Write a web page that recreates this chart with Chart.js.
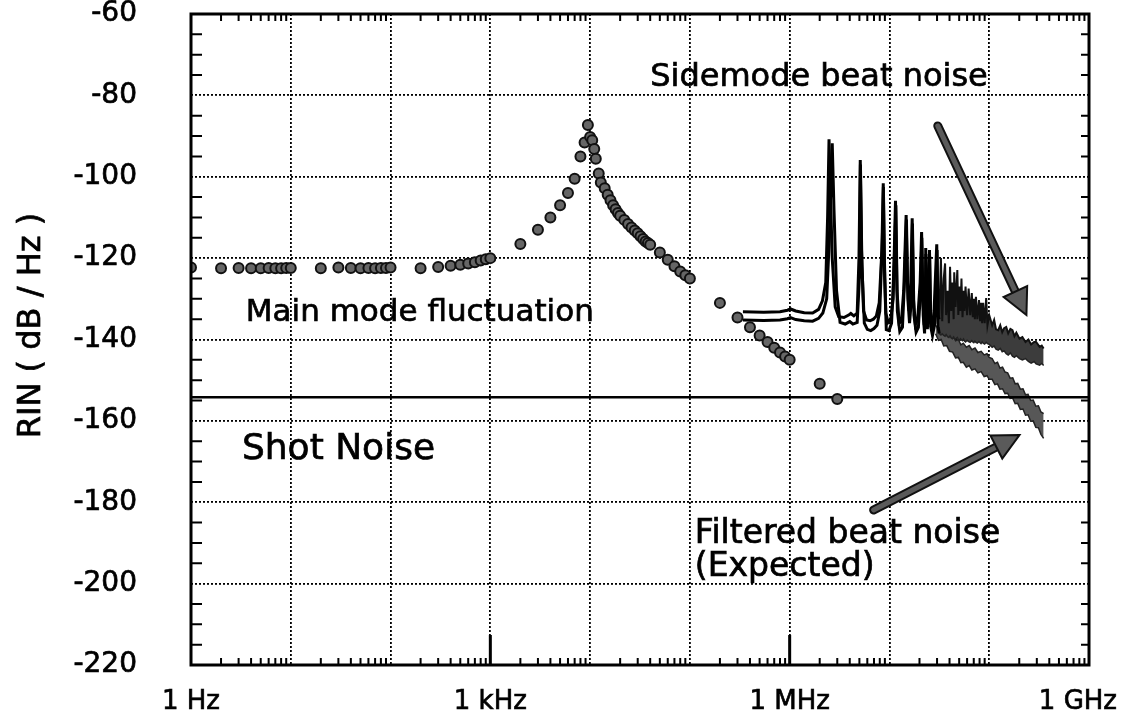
<!DOCTYPE html>
<html>
<head>
<meta charset="utf-8">
<script src="https://cdn.jsdelivr.net/npm/chart.js"></script>
<style>
  body { margin: 0; background: #fff; }
  canvas { display: block; }
</style>
</head>
<body>
<canvas id="rinChart" width="1127" height="717"></canvas>
<script>
// main mode fluctuation, measured points (Hz, dB/Hz)
var mainFreq = [1, 2, 3, 4, 5, 6, 7, 8, 9, 10, 20, 30, 40, 50, 60, 70, 80, 90, 100,
    200, 300, 400, 500, 600, 700, 800, 900, 1000, 2000, 3000, 4000, 5000, 6000, 7000, 8000,
    8800, 9500, 10000, 10500, 11000, 11400, 12200, 12800, 14000, 15000, 16000, 17000, 18000,
    19000, 20000, 22000, 24000, 26000, 28000, 30000, 32000, 34000, 36000, 38000, 40000,
    50000, 60000, 70000, 80000, 90000, 100000, 200000, 300000, 400000, 500000, 600000,
    700000, 800000, 900000, 1000000, 2000000, 3000000];
var mainRin = [-122.3, -122.5, -122.4, -122.5, -122.5, -122.4, -122.5, -122.5, -122.4, -122.4,
    -122.5, -122.3, -122.4, -122.5, -122.4, -122.5, -122.4, -122.4, -122.3,
    -122.5, -122.2, -121.9, -121.6, -121.3, -121.0, -120.6, -120.3, -120.0,
    -116.5, -113.0, -110.0, -107.0, -104.0, -100.5, -95.0,
    -91.6, -87.3, -90.2, -91.0, -93.2, -95.6, -99.2, -101.4,
    -102.8, -104.4, -105.8, -107.0, -108.0, -108.9, -109.6,
    -110.6, -111.6, -112.5, -113.2, -113.9, -114.6, -115.3, -115.9, -116.3, -116.7,
    -118.6, -120.4, -122.0, -123.3, -124.2, -125.0,
    -131.0, -134.6, -137.0, -139.0, -140.6, -142.0, -143.2, -144.2, -145.0, -150.9, -154.6];

// shot noise level
var shotFreq = [1, 1e9];
var shotRin = [-154.2, -154.2];

// sidemode beat noise, two measured traces (MHz, dB/Hz)
var sideHiMHz = [0.34, 0.55, 0.8, 0.95, 1.02, 1.15, 1.4, 1.7, 1.95, 2.13, 2.3, 2.4, 2.48, 2.56,
    2.67, 2.86, 3.1, 3.5, 3.9, 4.1, 4.4, 4.75, 4.95, 5.1, 5.25, 5.5, 5.9, 6.4, 6.9, 7.4, 7.9,
    8.4, 8.67, 8.85, 9.2, 9.7, 10.3, 10.9, 11.5, 11.9, 12.5, 13.2, 13.9, 14.7, 15.1, 15.7, 16.3,
    16.9, 17.4, 18.2, 19.2, 20.3, 21.0, 21.6, 22.3, 22.8, 23.1, 23.6, 24.4, 25.2, 25.8, 26.8,
    28.0, 29.8, 30.4, 31.5];
var sideHiRin = [-133.2, -133.3, -133.2, -132.8, -132.5, -133.0, -133.4, -133.5, -132.6, -130.5,
    -126, -110, -90.8, -104, -120, -132, -134.4, -134.6, -134, -133.6,
    -134.2, -133.5, -120, -95.9, -118, -133, -135.2, -135.4, -135, -134.2,
    -131, -118, -101.6, -118, -133.5, -135.8, -135, -130, -105.9, -128,
    -136, -135.5, -128, -109.4, -125, -133, -128, -110.2, -130, -136.3,
    -135, -126, -113.6, -130, -136.5, -132, -117.5, -134, -137, -118,
    -135, -137.4, -133, -116.6, -134, -135];
var sideLoMHz = [0.34, 0.55, 0.8, 0.95, 1.02, 1.15, 1.4, 1.7, 1.95, 2.15, 2.35, 2.5, 2.67, 2.78,
    2.95, 3.2, 3.6, 4.0, 4.3, 4.75, 5.0, 5.12, 5.3, 5.6, 6.0, 6.5, 7.0, 7.5, 8.0, 8.5, 8.7,
    8.95, 9.3, 9.9, 10.5, 11.2, 11.6, 12.0, 12.7, 13.5, 14.2, 14.8, 15.3, 15.9, 16.5, 17.0,
    17.6, 18.5, 19.5, 20.5, 21.1, 21.8, 22.5, 23.2, 24.0, 25.3, 26.0, 27.0, 28.5, 30.0, 30.8, 31.5];
var sideLoRin = [-135.2, -135.3, -135.2, -134.9, -134.6, -135.1, -135.4, -135.5, -134.8, -133.5,
    -130, -115, -91.8, -108, -128, -135.8, -136.2, -135.6, -136.2, -135.8,
    -125, -97, -122, -136, -137.5, -137.8, -137.3, -136.5, -133, -115,
    -102.5, -125, -137.6, -137.8, -136, -120, -107, -133, -138, -137,
    -125, -110.5, -130, -136, -131, -111.5, -134, -138.2, -137, -128,
    -115, -134, -138.5, -119, -137.5, -119.5, -137, -139, -136, -118,
    -137, -138.5];

// dense part of the sidemode spectrum, upper and lower edges (MHz, dB/Hz)
var denseMHz = [31.5, 32.8, 33.8, 35.0, 36.1, 37.0, 38.2, 39.4, 40.5, 41.6, 42.8, 44.0, 44.6,
    46.0, 47.9, 49.0, 50.2, 51.5, 52.7, 54.0, 55.3, 56.5, 57.9, 60.0, 62.2, 64.5, 66.9, 68.5,
    70.1, 71.8, 73.6, 76.0, 79.0, 81.0, 82.8, 85.0, 86.9, 90.0, 93.2, 96.0, 100, 107, 112, 117,
    123, 129, 135, 141, 148, 155, 163, 171, 179, 187, 201, 215, 231, 247, 263, 282, 295, 320,
    336, 351];
var denseTop = [-135, -120, -135.5, -125, -121.3, -134, -128, -136, -122.1, -133,
    -126, -135, -123.5, -132, -122.9, -134, -127, -133, -125, -134.5,
    -128, -133, -127, -134, -127.5, -134, -128.6, -134.5, -130, -135,
    -129.5, -135, -130.3, -135.5, -131, -136, -131, -136, -129.8, -136.5,
    -134, -136.5, -135.2, -137.5, -137.7, -136.5, -138.2, -137.2, -136.9, -138.5,
    -137.4, -137.7, -139.2, -138.3, -139.8, -139.4, -140.6, -140.0, -141.2, -140.6,
    -140.6, -141.8, -141.5, -142.2];
var denseBottom = [-138.5, -138.9, -138.6, -139.0, -139.2, -138.8, -139.3, -139.5, -139.1, -139.6,
    -139.8, -139.4, -139.7, -139.9, -139.5, -140.0, -140.2, -139.8, -140.1, -140.3,
    -139.9, -140.4, -140.6, -140.2, -140.5, -140.7, -140.3, -140.6, -140.8, -140.4,
    -140.7, -140.9, -140.5, -140.8, -141.0, -140.6, -140.9, -141.1, -140.7, -141.0,
    -141.2, -141.9, -141.6, -142.4, -142.6, -142.2, -143.0, -142.8, -143.5, -143.8,
    -143.3, -144.1, -144.4, -144.0, -144.7, -145.0, -144.7, -145.4, -145.8, -145.4,
    -146.0, -146.3, -145.9, -146.4];

// filtered beat noise (expected), upper and lower edges (MHz, dB/Hz)
var filtMHz = [29, 31, 33, 35, 37.5, 40, 43, 46, 49, 52, 55, 59, 63, 67, 72, 77, 83, 89, 95, 100,
    107, 114, 121, 128, 136, 144, 153, 162, 172, 182, 193, 205, 218, 231, 245, 260, 276, 293,
    311, 330, 351];
var filtTop = [-136.5, -137.4, -136.9, -137.9, -138.0, -138.9, -138.9, -140.3, -140.0, -141.3,
    -140.9, -141.9, -141.5, -142.5, -142.1, -143.2, -142.9, -143.8, -143.5, -144.4,
    -144.7, -145.9, -145.6, -147.0, -146.8, -148.0, -148.2, -149.5, -149.4, -150.9,
    -150.8, -152.2, -152.1, -153.6, -153.5, -155.0, -154.9, -156.4, -156.3, -157.8, -158.2];
var filtBottom = [-138.6, -140.2, -140.0, -141.6, -141.5, -142.9, -143.1, -144.5, -144.4, -145.7,
    -145.6, -146.8, -146.4, -147.5, -147.2, -148.2, -147.9, -149.1, -148.9, -149.8,
    -149.8, -151.1, -150.9, -152.2, -152.1, -153.3, -153.2, -154.5, -154.4, -155.8,
    -155.7, -157.2, -157.1, -158.6, -158.5, -160.1, -160.0, -161.6, -161.7, -163.3, -164.3];

// axis ticks
var decades = [1, 10, 100, 1e3, 1e4, 1e5, 1e6, 1e7, 1e8, 1e9];
var xTickValues = [1, 1e3, 1e6, 1e9];
var xTickLabels = ['1 Hz', '1 kHz', '1 MHz', '1 GHz'];

var FONT = '"DejaVu Sans", sans-serif';
var TEXT_STROKE = 0.7;

// text notes and arrows, anchored in (Hz, dB/Hz)
var notes = [
    {text: 'Sidemode beat noise', f: 4.0e4, db: -77.7, size: 32},
    {text: 'Main mode fluctuation', f: 3.54, db: -135.4, size: 31},
    {text: 'Shot Noise', f: 3.24, db: -169.4, size: 36},
    {text: 'Filtered beat noise', f: 1.12e5, db: -190.0, size: 33},
    {text: '(Expected)', f: 1.12e5, db: -198.1, size: 33}
];
var arrows = [
    {from: [30.5e6, -87.5], to: [236e6, -134.0]},
    {from: [6.94e6, -181.9], to: [201e6, -163.5]}
];

function toPoints(freqs, values, unit) {
    unit = unit || 1;
    return freqs.map(function (f, i) { return {x: f * unit, y: values[i]}; });
}

function drawText(ctx, text, x, y) {
    ctx.strokeText(text, x, y);
    ctx.fillText(text, x, y);
}

function drawArrow(ctx, x0, y0, x1, y1) {
    var ang = Math.atan2(y1 - y0, x1 - x0);
    var headLen = 26, headW = 13;
    var bx = x1 - headLen * Math.cos(ang), by = y1 - headLen * Math.sin(ang);
    ctx.lineCap = 'round';
    ctx.beginPath();
    ctx.moveTo(x0, y0);
    ctx.lineTo(bx, by);
    ctx.strokeStyle = '#111';
    ctx.lineWidth = 9;
    ctx.stroke();
    ctx.strokeStyle = '#5a5a5a';
    ctx.lineWidth = 5;
    ctx.stroke();
    ctx.beginPath();
    ctx.moveTo(x1, y1);
    ctx.lineTo(bx + headW * Math.sin(ang), by - headW * Math.cos(ang));
    ctx.lineTo(bx - headW * Math.sin(ang), by + headW * Math.cos(ang));
    ctx.closePath();
    ctx.fillStyle = '#5a5a5a';
    ctx.fill();
    ctx.lineWidth = 2;
    ctx.strokeStyle = '#111';
    ctx.stroke();
}

// frame, minor ticks, axis labels, notes and arrows
var decorations = {
    id: 'decorations',
    afterDatasetsDraw: function (chart) {
        var ctx = chart.ctx, a = chart.chartArea;
        var x = chart.scales.x, y = chart.scales.y;
        ctx.save();

        ctx.strokeStyle = '#000';
        ctx.lineWidth = 2;
        ctx.beginPath();
        for (var v = -215; v < -60; v += 5) {
            if (v % 20 === 0) continue;
            var py = y.getPixelForValue(v);
            ctx.moveTo(a.left, py); ctx.lineTo(a.left + 11, py);
            ctx.moveTo(a.right, py); ctx.lineTo(a.right - 8, py);
        }
        for (var d = 1; d < 1e9; d *= 10) {
            for (var m = 2; m < 10; m++) {
                var px = x.getPixelForValue(d * m);
                ctx.moveTo(px, a.bottom); ctx.lineTo(px, a.bottom - 7);
                ctx.moveTo(px, a.top); ctx.lineTo(px, a.top + 7);
            }
        }
        ctx.stroke();

        // long marks at 1 kHz and 1 MHz
        ctx.lineWidth = 3;
        ctx.beginPath();
        [1e3, 1e6].forEach(function (f) {
            var px = x.getPixelForValue(f);
            ctx.moveTo(px, a.bottom); ctx.lineTo(px, a.bottom - 30);
        });
        ctx.stroke();

        ctx.lineWidth = 3;
        ctx.strokeRect(a.left, a.top, a.right - a.left, a.bottom - a.top);

        // x tick labels, kept inside the canvas
        ctx.fillStyle = '#000';
        ctx.strokeStyle = '#000';
        ctx.lineWidth = TEXT_STROKE;
        ctx.font = '26px ' + FONT;
        ctx.textAlign = 'center';
        ctx.textBaseline = 'alphabetic';
        xTickValues.forEach(function (f, i) {
            var w = ctx.measureText(xTickLabels[i]).width;
            var px = Math.min(x.getPixelForValue(f), chart.width - 10 - w / 2);
            drawText(ctx, xTickLabels[i], px, a.bottom + 44);
        });

        // y axis title
        ctx.save();
        ctx.translate(32, (a.top + a.bottom) / 2 - 14);
        ctx.rotate(-Math.PI / 2);
        ctx.textBaseline = 'middle';
        ctx.font = '32px ' + FONT;
        drawText(ctx, 'RIN ( dB / Hz )', 0, 0);
        ctx.restore();

        arrows.forEach(function (ar) {
            drawArrow(ctx,
                x.getPixelForValue(ar.from[0]), y.getPixelForValue(ar.from[1]),
                x.getPixelForValue(ar.to[0]), y.getPixelForValue(ar.to[1]));
        });

        ctx.textAlign = 'left';
        ctx.fillStyle = '#000';
        ctx.strokeStyle = '#000';
        ctx.lineWidth = TEXT_STROKE;
        notes.forEach(function (n) {
            ctx.font = n.size + 'px ' + FONT;
            drawText(ctx, n.text, x.getPixelForValue(n.f), y.getPixelForValue(n.db));
        });

        ctx.restore();
    }
};

var gridOpts = {color: '#000', lineWidth: 1.8, drawTicks: false};
var borderOpts = {display: false, dash: [2, 2]};

var chartData = {
    datasets: [{
        label: 'Main mode fluctuation',
        data: toPoints(mainFreq, mainRin),
        showLine: false,
        pointRadius: 5,
        pointBackgroundColor: '#666',
        pointBorderColor: '#111',
        pointBorderWidth: 2
    }, {
        label: 'Shot noise',
        data: toPoints(shotFreq, shotRin),
        borderColor: '#000',
        borderWidth: 2.5,
        pointRadius: 0
    }, {
        label: 'Sidemode beat noise',
        data: toPoints(sideHiMHz, sideHiRin, 1e6),
        borderColor: '#000',
        borderWidth: 3,
        pointRadius: 0
    }, {
        label: 'Sidemode beat noise (2)',
        data: toPoints(sideLoMHz, sideLoRin, 1e6),
        borderColor: '#000',
        borderWidth: 3,
        pointRadius: 0
    }, {
        label: 'Sidemode dense top',
        data: toPoints(denseMHz, denseTop, 1e6),
        borderColor: '#111',
        borderWidth: 2,
        pointRadius: 0
    }, {
        label: 'Sidemode dense bottom',
        data: toPoints(denseMHz, denseBottom, 1e6),
        borderColor: '#222',
        borderWidth: 1.5,
        pointRadius: 0,
        fill: '-1',
        backgroundColor: '#3c3c3c'
    }, {
        label: 'Filtered top',
        data: toPoints(filtMHz, filtTop, 1e6),
        borderColor: '#222',
        borderWidth: 1.5,
        pointRadius: 0
    }, {
        label: 'Filtered bottom',
        data: toPoints(filtMHz, filtBottom, 1e6),
        borderColor: '#222',
        borderWidth: 1.5,
        pointRadius: 0,
        fill: '-1',
        backgroundColor: '#575757'
    }]
};

var rinChart = new Chart(document.getElementById('rinChart').getContext('2d'), {
    type: 'line',
    data: chartData,
    options: {
        responsive: false,
        animation: false,
        layout: {padding: {top: 14, right: 38, bottom: 0, left: 0}},
        elements: {line: {tension: 0}},
        plugins: {legend: {display: false}, tooltip: {enabled: false}},
        scales: {
            x: {
                type: 'logarithmic',
                min: 1,
                max: 1e9,
                afterBuildTicks: function (s) {
                    s.ticks = decades.map(function (v) { return {value: v}; });
                },
                afterFit: function (s) {
                    s.height = 52;
                    s.paddingLeft = 0;
                    s.paddingRight = 0;
                },
                ticks: {display: false},
                grid: gridOpts,
                border: borderOpts
            },
            y: {
                min: -220,
                max: -60,
                afterFit: function (s) {
                    s.width = 191;
                    s.paddingTop = 0;
                    s.paddingBottom = 0;
                },
                ticks: {
                    stepSize: 20,
                    padding: 54,
                    color: '#000',
                    textStrokeColor: '#000',
                    textStrokeWidth: TEXT_STROKE,
                    font: {family: 'DejaVu Sans', size: 28}
                },
                grid: gridOpts,
                border: borderOpts
            }
        }
    },
    plugins: [decorations]
});
</script>
</body>
</html>
